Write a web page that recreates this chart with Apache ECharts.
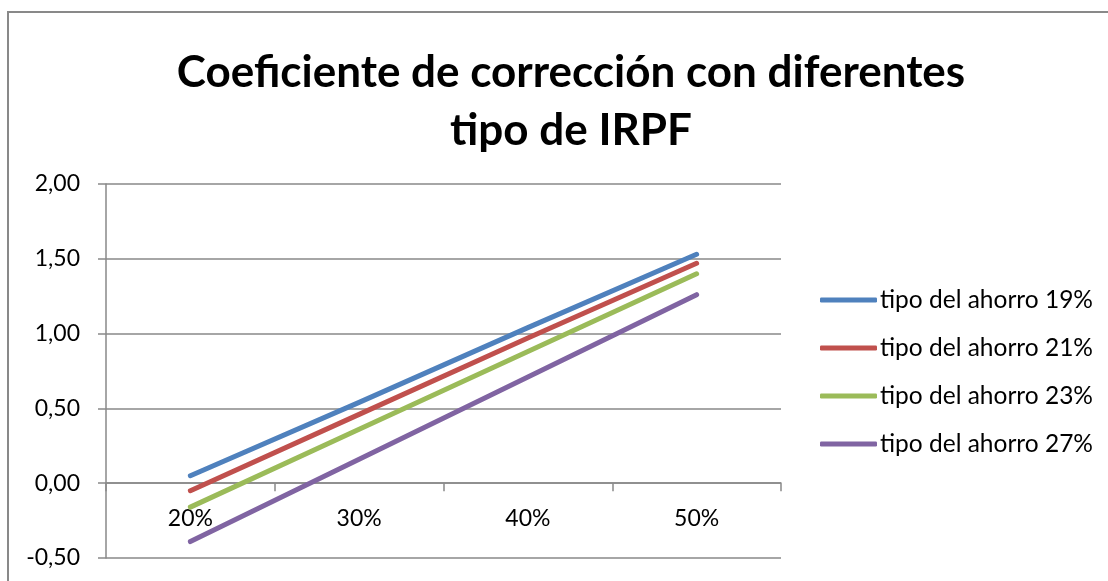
<!DOCTYPE html>
<html>
<head>
<meta charset="utf-8">
<script src="https://cdn.jsdelivr.net/npm/echarts@6/dist/echarts.min.js"></script>
<style>
html,body{margin:0;padding:0;background:#fff;}
#chart{width:1108px;height:581px;}
</style>
</head>
<body>
<div id="chart"></div>
<script>
const titleText = 'Coeficiente de corrección con diferentes\ntipo de IRPF';
const categories = ['20%', '30%', '40%', '50%'];
const seriesNames = ['tipo del ahorro 19%', 'tipo del ahorro 21%', 'tipo del ahorro 23%', 'tipo del ahorro 27%'];
const ahorro19 = [0.05, 0.54, 1.04, 1.53];
const ahorro21 = [-0.05, 0.46, 0.97, 1.47];
const ahorro23 = [-0.16, 0.36, 0.88, 1.40];
const ahorro27 = [-0.39, 0.16, 0.71, 1.26];
const yMin = -0.5, yMax = 2, yStep = 0.5;
const colors = ['#4F81BD', '#C0504D', '#9BBB59', '#8064A2'];
const FONT = 'Lato';

const W = 1108, H = 581;
const gridBox = { left: 106, right: 327, top: 184, bottom: 23 };
const gridHeight = H - gridBox.top - gridBox.bottom;
// put the category axis on the zero line of the value axis
const zeroOffset = -((0 - yMin) / (yMax - yMin)) * gridHeight;

const chart = echarts.init(document.getElementById('chart'));
const dataSets = [ahorro19, ahorro21, ahorro23, ahorro27];

chart.setOption({
  animation: false,
  backgroundColor: '#ffffff',
  graphic: [{
    type: 'rect',
    shape: { x: 8, y: 12, width: 1200, height: 700 },
    style: { fill: 'none', stroke: '#898989', lineWidth: 2 },
    silent: true
  }],
  title: {
    text: titleText,
    left: 566,
    textAlign: 'center',
    top: 39,
    textStyle: { fontFamily: FONT, fontWeight: 'bold', fontSize: 44, lineHeight: 58, color: '#000' }
  },
  legend: {
    orient: 'vertical',
    left: 820,
    top: 287,
    padding: 0,
    icon: 'roundRect',
    itemWidth: 57,
    itemHeight: 5,
    itemGap: 22,
    data: seriesNames,
    textStyle: { fontFamily: FONT, fontSize: 24.5, lineHeight: 26, color: '#000', padding: [0, 0, 0, -2] }
  },
  grid: Object.assign({ outerBoundsMode: 'none', containLabel: false }, gridBox),
  xAxis: {
    type: 'category',
    data: categories,
    boundaryGap: true,
    position: 'bottom',
    offset: zeroOffset,
    axisLine: { onZero: false, lineStyle: { color: '#898989', width: 1.5 } },
    axisTick: { show: true, length: 8, alignWithLabel: false, lineStyle: { color: '#898989', width: 1.5 } },
    axisLabel: { margin: 24, fontFamily: FONT, fontSize: 23, color: '#000' },
    splitLine: { show: false }
  },
  yAxis: {
    type: 'value',
    min: yMin,
    max: yMax,
    interval: yStep,
    axisLine: { show: true, lineStyle: { color: '#898989', width: 1.5 } },
    axisTick: { show: true, length: 8, lineStyle: { color: '#898989', width: 1.5 } },
    axisLabel: {
      margin: 26, fontFamily: FONT, fontSize: 23, color: '#000',
      formatter: v => v.toFixed(2).replace('.', ',')
    },
    splitLine: { show: true, lineStyle: { color: '#898989', width: 1.5 } }
  },
  series: dataSets.map((d, i) => ({
    name: seriesNames[i],
    type: 'line',
    data: d,
    showSymbol: false,
    symbol: 'none',
    itemStyle: { color: colors[i] },
    lineStyle: { color: colors[i], width: 5, cap: 'round', join: 'round' }
  }))
});
</script>
</body>
</html>
